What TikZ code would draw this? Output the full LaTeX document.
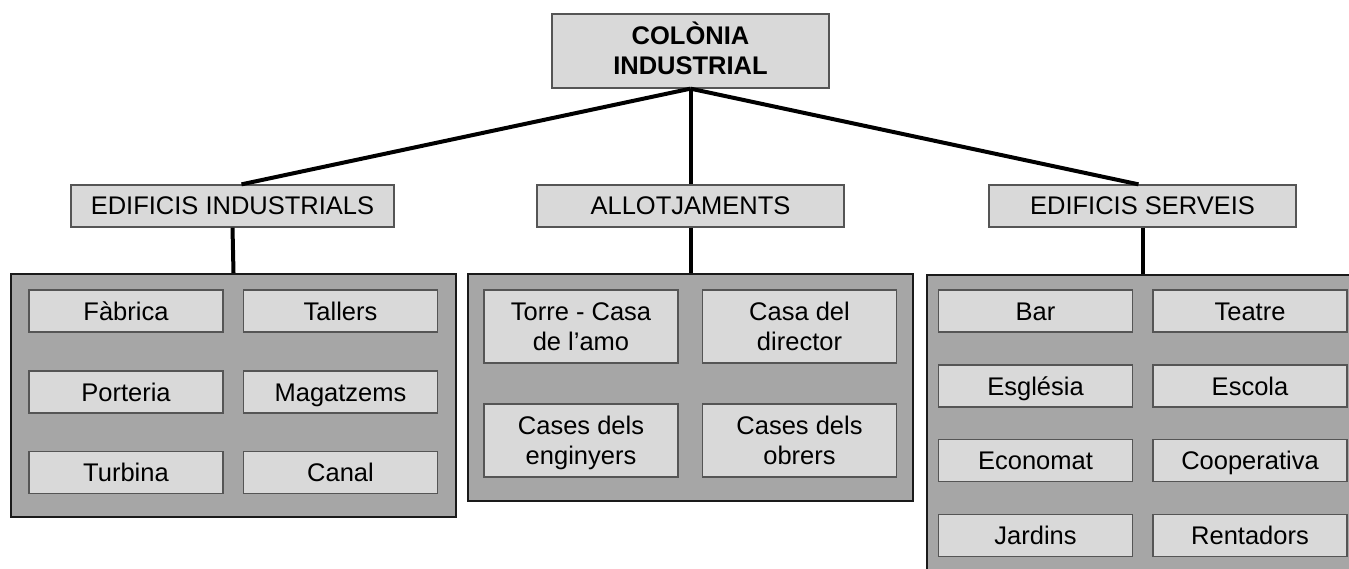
\documentclass[tikz,border=0pt]{standalone}
\usepackage{fontspec}
\setmainfont{Liberation Sans}
\definecolor{boxfill}{HTML}{D9D9D9}
\definecolor{panelfill}{HTML}{A6A6A6}
\definecolor{boxline}{HTML}{555555}
\definecolor{panelline}{HTML}{1A1A1A}
\newcommand\lnst[1]{\rule[-2pt]{0pt}{22pt}\smash{#1}}
\begin{document}
\begin{tikzpicture}[x=1pt,y=-1pt,
  lbox/.style={draw=boxline,line width=1.3pt,fill=boxfill,inner sep=0pt,
    minimum width=#1,align=center,font=\fontsize{25.5}{30}\selectfont},
  item/.style={lbox=194pt,minimum height=42pt,text height=20pt,text depth=2pt},
  item2/.style={lbox=194pt,minimum height=73pt},
  head/.style={lbox=#1,minimum height=42pt,text height=20pt,text depth=2pt},
  panel/.style={draw=panelline,line width=2.2pt,fill=panelfill,inner sep=0pt},
  conn/.style={line width=4pt,black}]
\useasboundingbox (0,0) rectangle (1349,569);
\clip (0,0) rectangle (1349,569);
\fill[white] (0,0) rectangle (1349,569);
% top
\node[lbox=277pt,minimum height=74pt,font=\fontsize{25.5}{30}\selectfont\bfseries] (top) at (690.5,51) {\lnst{COLÒNIA}\\\lnst{INDUSTRIAL}};
% headers
\node[head=323pt] (lh) at (232.5,206) {EDIFICIS INDUSTRIALS};
\node[head=307pt] (mh) at (690.5,206) {ALLOTJAMENTS};
\node[head=307pt] (rh) at (1142.5,206) {EDIFICIS SERVEIS};
% panels
\node[panel,minimum width=445pt,minimum height=243pt] (lp) at (233.5,395.5) {};
\node[panel,minimum width=445pt,minimum height=227pt] (mp) at (690.5,387.5) {};
\node[panel,minimum width=445pt,minimum height=340pt,anchor=north west] (rp) at (926,274) {};
% left items
\node[item] (fab) at (126,311) {Fàbrica};
\node[item] (tal) at (340.5,311) {Tallers};
\node[item] (por) at (126,392) {Porteria};
\node[item] (mag) at (340.5,392) {Magatzems};
\node[item] (tur) at (126,472.5) {Turbina};
\node[item] (can) at (340.5,472.5) {Canal};
% middle items
\node[item2] (tor) at (581,326.5) {\lnst{Torre - Casa}\\\lnst{de l’amo}};
\node[item2] (dir) at (799.5,326.5) {\lnst{Casa del}\\\lnst{director}};
\node[item2] (eng) at (581,440.5) {\lnst{Cases dels}\\\lnst{enginyers}};
\node[item2] (obr) at (799.5,440.5) {\lnst{Cases dels}\\\lnst{obrers}};
% right items
\node[item] (bar) at (1035.5,311) {Bar};
\node[item] (tea) at (1250,311) {Teatre};
\node[item] (esg) at (1035.5,386) {\smash{Església}};
\node[item] (esc) at (1250,386) {Escola};
\node[item] (eco) at (1035.5,460.5) {Economat};
\node[item] (coo) at (1250,460.5) {Cooperativa};
\node[item] (jar) at (1035.5,535.5) {Jardins};
\node[item] (ren) at (1250,535.5) {Rentadors};
% connectors
\draw[conn] (top.south) -- ([xshift=9pt]lh.north);
\draw[conn] (top.south) -- (mh.north);
\draw[conn] (top.south) -- ([xshift=-4pt]rh.north);
\draw[conn] (lh.south) -- (lp.north);
\draw[conn] (mh.south) -- (mp.north);
\draw[conn] (rh.south) -- (rh.south |- rp.north);
\end{tikzpicture}
\end{document}
